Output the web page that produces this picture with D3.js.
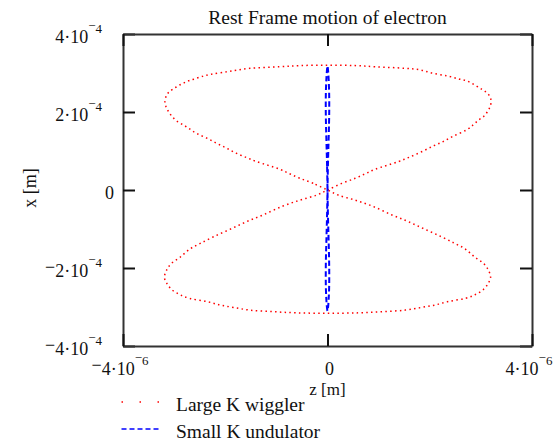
<!DOCTYPE html>
<html>
<head>
<meta charset="utf-8">
<script src="https://cdn.jsdelivr.net/npm/d3@7"></script>
<style>
  html, body { margin: 0; padding: 0; background: #fff; }
  svg { display: block; }
  text { font-family: "Liberation Serif", "Times New Roman", serif; fill: #111; }
</style>
</head>
<body>
<svg id="chart" width="555" height="440"></svg>
<script>
// Rest-frame trajectory of an electron: transverse x versus longitudinal z.
const Z_UNIT = 1e-6;   // z values below are in micrometres
const X_UNIT = 1e-4;   // x values below are in units of 1e-4 m

const zDomain = [-4e-6, 4e-6];
const xDomain = [-4e-4, 4e-4];
const zTicks = [-4e-6, 0, 4e-6];
const xTicks = [-4e-4, -2e-4, 0, 2e-4, 4e-4];

const seriesNames = ["Large K wiggler", "Small K undulator"];

// Large K wiggler: figure-eight traced once round the loop
const wigglerZ = [
  0, -0.28, -0.54, -0.73, -0.93, -1.39, -1.58, -1.78, -1.97, -2.17, -2.36, -2.56, -2.69, -2.82, -2.95,
  -3.05, -3.11, -3.16, -3.18, -3.145, -3.09, -3.03, -2.92, -2.82, -2.72, -2.62, -2.43, -2.27, -1.97,
  -1.78, -1.52, -0.93, -0.54, 0,
  0.54, 0.93, 1.52, 1.81, 2.07, 2.36, 2.56, 2.72, 2.885, 3.02, 3.11, 3.18, 3.20, 3.18, 3.13, 3.05,
  2.95, 2.85, 2.72, 2.46, 2.26, 2.07, 1.84, 1.58, 1.39, 0.93, 0.73, 0.54, 0.28,
  0, -0.21, -0.54, -0.87, -1.26, -1.58, -1.91, -2.23, -2.49, -2.69, -2.88, -3.05, -3.145, -3.19,
  -3.145, -3.05, -2.88, -2.69, -2.36, -2.10, -1.84, -1.52, -1.06, -0.60, 0,
  0.60, 1.06, 1.52, 1.84, 2.10, 2.36, 2.69, 2.88, 3.05, 3.145, 3.19, 3.145, 3.05, 2.88, 2.69, 2.49,
  2.23, 1.91, 1.58, 1.26, 0.87, 0.54, 0.21
];
const wigglerX = [
  0, 0.17, 0.30, 0.41, 0.53, 0.73, 0.83, 0.94, 1.07, 1.20, 1.33, 1.45, 1.56, 1.67, 1.77,
  1.90, 2.01, 2.14, 2.26, 2.44, 2.52, 2.58, 2.67, 2.74, 2.80, 2.84, 2.92, 2.97, 3.03,
  3.07, 3.12, 3.16, 3.19, 3.20,
  3.19, 3.16, 3.12, 3.08, 2.99, 2.92, 2.85, 2.80, 2.69, 2.58, 2.50, 2.39, 2.26, 2.14, 2.01, 1.88,
  1.79, 1.67, 1.54, 1.38, 1.24, 1.13, 0.98, 0.83, 0.73, 0.53, 0.41, 0.30, 0.17,
  0, -0.13, -0.26, -0.41, -0.64, -0.81, -1.01, -1.20, -1.37, -1.51, -1.72, -1.88, -2.05, -2.24,
  -2.39, -2.55, -2.69, -2.78, -2.86, -2.95, -3.01, -3.08, -3.12, -3.15, -3.16,
  -3.15, -3.12, -3.08, -3.01, -2.95, -2.86, -2.78, -2.69, -2.55, -2.39, -2.24, -2.05, -1.88, -1.72, -1.51, -1.37,
  -1.20, -1.01, -0.81, -0.64, -0.41, -0.26, -0.13
];

// Small K undulator: a very narrow figure-eight
const undulatorZ = [
  0, -0.008, -0.02, -0.03, -0.034, -0.032, -0.022, -0.01, 0, 0.01, 0.022, 0.032, 0.034, 0.03, 0.02, 0.008,
  0, -0.008, -0.02, -0.03, -0.034, -0.032, -0.022, -0.01, 0, 0.01, 0.022, 0.032, 0.034, 0.03, 0.02, 0.008
];
const undulatorX = [
  0, 0.6, 1.2, 1.7, 2.1, 2.5, 2.85, 3.08, 3.18, 3.08, 2.85, 2.5, 2.1, 1.7, 1.2, 0.6,
  0, -0.6, -1.2, -1.7, -2.1, -2.5, -2.82, -3.02, -3.1, -3.02, -2.82, -2.5, -2.1, -1.7, -1.2, -0.6
];

const svg = d3.select("#chart");
const plot = { left: 123, right: 532, top: 34, bottom: 346 };

const zScale = d3.scaleLinear().domain(zDomain).range([plot.left, plot.right]);
const xScale = d3.scaleLinear().domain(xDomain).range([plot.bottom, plot.top]);

// Title
svg.append("text")
  .attr("x", (plot.left + plot.right) / 2)
  .attr("y", 24)
  .attr("text-anchor", "middle")
  .style("font-size", "19.5px")
  .text("Rest Frame motion of electron");

// Frame with inward ticks on all four sides
function styleAxis(g) {
  g.select(".domain").attr("stroke", "#333").attr("stroke-width", 2);
  g.selectAll(".tick line").attr("stroke", "#111").attr("stroke-width", 2);
  g.selectAll(".tick text").remove();
}
svg.append("g").attr("transform", `translate(${plot.left},0)`)
  .call(d3.axisLeft(xScale).tickValues(xTicks).tickSizeInner(-12).tickSizeOuter(0).tickFormat(""))
  .call(styleAxis);
svg.append("g").attr("transform", `translate(${plot.right},0)`)
  .call(d3.axisRight(xScale).tickValues(xTicks).tickSizeInner(-12).tickSizeOuter(0).tickFormat(""))
  .call(styleAxis);
svg.append("g").attr("transform", `translate(0,${plot.bottom})`)
  .call(d3.axisBottom(zScale).tickValues(zTicks).tickSizeInner(-12).tickSizeOuter(0).tickFormat(""))
  .call(styleAxis);
svg.append("g").attr("transform", `translate(0,${plot.top})`)
  .call(d3.axisTop(zScale).tickValues(zTicks).tickSizeInner(-12).tickSizeOuter(0).tickFormat(""))
  .call(styleAxis);

// Tick labels written as mantissa·10^exponent with a raised minus sign
function writeLabel(textSel, v) {
  if (v === 0) { textSel.append("tspan").text("0"); return; }
  const exp = Math.floor(Math.log10(Math.abs(v)) + 1e-9);
  const mant = Math.round(v / Math.pow(10, exp));
  if (mant < 0) {
    textSel.append("tspan").attr("dy", -4).text("\u2212");
    textSel.append("tspan").attr("dy", 4).text(Math.abs(mant) + "\u00B710");
  } else {
    textSel.append("tspan").text(mant + "\u00B710");
  }
  textSel.append("tspan").attr("dy", -13).style("font-size", "13px").text("\u2212");
  textSel.append("tspan").attr("dy", 3).style("font-size", "13px").text(String(Math.abs(exp)));
}

const yLab = svg.append("g").style("font-size", "18px");
xTicks.forEach(v => {
  const t = yLab.append("text")
    .attr("x", v === 0 ? 114 : 102)
    .attr("y", xScale(v) + 9)
    .attr("text-anchor", "end");
  writeLabel(t, v);
});
const xLab = svg.append("g").style("font-size", "18px");
zTicks.forEach(v => {
  const t = xLab.append("text")
    .attr("x", zScale(v) + (v === 0 ? 2 : -3))
    .attr("y", 375)
    .attr("text-anchor", "middle");
  writeLabel(t, v);
});

// Axis titles
svg.append("text")
  .attr("transform", "translate(36,188) rotate(-90)")
  .attr("text-anchor", "middle")
  .style("font-size", "18px")
  .text("x [m]");
svg.append("text")
  .attr("x", (plot.left + plot.right) / 2)
  .attr("y", 395)
  .attr("text-anchor", "middle")
  .style("font-size", "17px")
  .text("z [m]");

// Trajectories
const line = d3.line()
  .x(d => zScale(d[0]))
  .y(d => xScale(d[1]))
  .curve(d3.curveCatmullRomClosed.alpha(0.5));

const wigglerPts = wigglerZ.map((z, i) => [z * Z_UNIT, wigglerX[i] * X_UNIT]);
const undulatorPts = undulatorZ.map((z, i) => [z * Z_UNIT, undulatorX[i] * X_UNIT]);

const styles = [
  { color: "#ff0000", width: 1.5, dash: "1.5 3.3", legendDash: "1.5 16.5" },
  { color: "#0000ff", width: 2, dash: "5.5 3", legendDash: "5 3" }
];

svg.append("path")
  .datum(wigglerPts)
  .attr("d", line)
  .attr("fill", "none")
  .attr("stroke", styles[0].color)
  .attr("stroke-width", styles[0].width)
  .attr("stroke-dasharray", styles[0].dash);

svg.append("path")
  .datum(undulatorPts)
  .attr("d", line)
  .attr("fill", "none")
  .attr("stroke", styles[1].color)
  .attr("stroke-width", styles[1].width)
  .attr("stroke-dasharray", styles[1].dash);

// Legend
const legend = svg.append("g");
seriesNames.forEach((name, i) => {
  const y = 402 + i * 27;
  legend.append("line")
    .attr("x1", 121.5).attr("x2", 160)
    .attr("y1", y).attr("y2", y)
    .attr("stroke", styles[i].color)
    .attr("stroke-width", 1.5)
    .attr("stroke-dasharray", styles[i].legendDash);
  legend.append("text")
    .attr("x", 176)
    .attr("y", y + 8.5)
    .style("font-size", "19.5px")
    .text(name);
});
</script>
</body>
</html>
